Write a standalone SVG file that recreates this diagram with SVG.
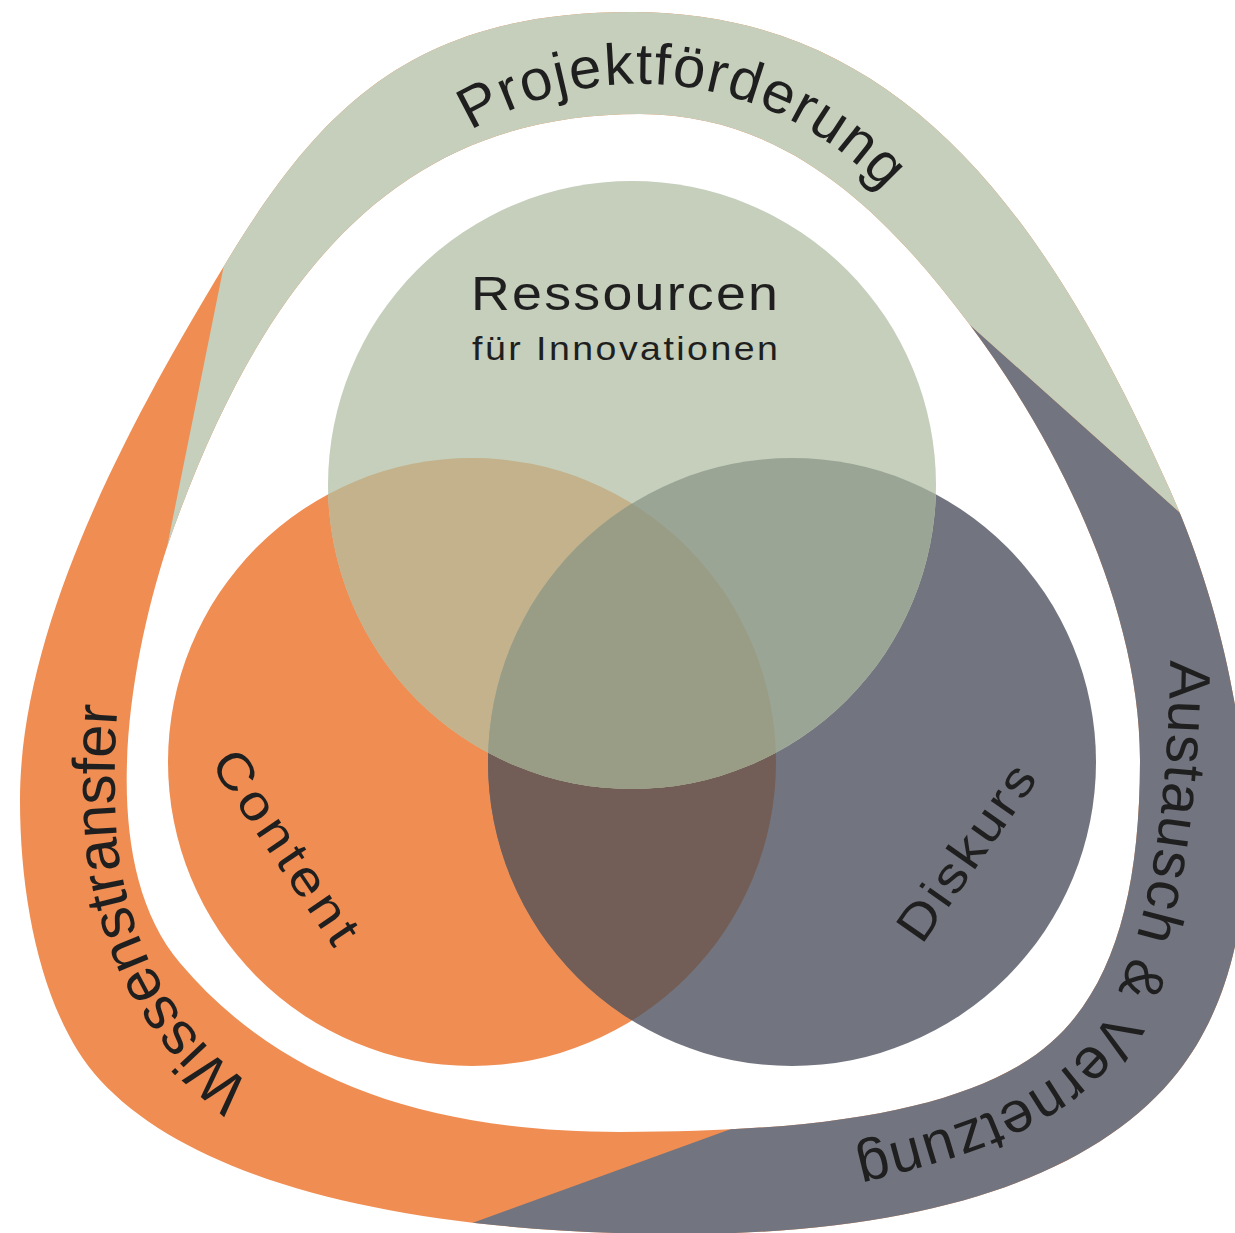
<svg xmlns="http://www.w3.org/2000/svg" width="1235" height="1233" viewBox="0 0 1235 1233">
  <style>
    .lbl { font-family: "Liberation Sans", Arial, sans-serif; fill: #1f1f1f; }
    .ring { font-size: 58px; }
  </style>
  <defs>
    <!-- closed band: outer contour + inner contour, filled even-odd -->
    <path id="ringShape" fill-rule="evenodd" d="M 632,12 C 902,12 1047.6,216 1170,490 C 1245.5,659 1292.3,926.6 1178,1072 C 1097.7,1174.2 930,1234 680,1234 C 430,1234 201.7,1190.3 100,1080 C 45.8,1021.2 20,910 20,800 C 20,620 136.1,411.5 224,266 C 319.6,107.6 412,12 632,12 Z
      M 640,114 C 790,114 890,218 970,325 C 1060,445 1140,610 1140,760 C 1140,910 1106.3,1014.4 1020,1065 C 942.3,1110.5 820,1132 620,1132 C 420,1132 276.9,1077.5 180,963 C 96,863.8 126.8,670.6 167,547 C 270,250 415,114 640,114 Z"/>

    <!-- sectors that split the band into its three parts -->
    <clipPath id="sectorTop"><polygon points="167,547 248,146 -20,-20 1300,-20 1300,620 970,325"/></clipPath>
    <clipPath id="sectorRight"><polygon points="970,325 1300,620 1300,1300 250,1300 365,1262 742,1125"/></clipPath>

    <!-- circle clips for the Venn overlaps -->
    <clipPath id="clipContent"><circle cx="472" cy="762" r="304"/></clipPath>
    <clipPath id="clipDiskurs"><circle cx="792" cy="762" r="304"/></clipPath>

    <!-- text baselines along the band, running clockwise -->
    <path id="pathTop" d="M 420,168 A 330 330 0 0 1 920,239"/>
    <path id="pathLeft" d="M 262,1092 Q 140,1010 118,850 Q 110,760 122,660"/>
    <path id="pathRight" d="M 1170,600 C 1172,760 1160,900 1110,1010 C 1065,1100 960,1130 800,1165"/>
  </defs>

  <!-- outer band -->
  <g id="band">
    <g id="wissenstransfer">
      <use href="#ringShape" fill="#ef8d52"/>
      <text class="lbl" font-size="60" letter-spacing="-0.5"><textPath href="#pathLeft" startOffset="12">Wissenstransfer</textPath></text>
    </g>
    <g id="austausch">
      <use href="#ringShape" fill="#72757f" clip-path="url(#sectorRight)"/>
      <text class="lbl ring" letter-spacing="1.2"><textPath href="#pathRight" startOffset="60">Austausch &amp; Vernetzung</textPath></text>
    </g>
    <g id="projektfoerderung">
      <use href="#ringShape" fill="#c5cfbb" clip-path="url(#sectorTop)"/>
      <text class="lbl ring" letter-spacing="1.5"><textPath href="#pathTop" startOffset="63">Projektförderung</textPath></text>
    </g>
  </g>

  <!-- three overlapping circles -->
  <g id="venn">
    <g id="content">
      <circle cx="472" cy="762" r="304" fill="#ef8d52"/>
    </g>
    <g id="diskurs">
      <circle cx="792" cy="762" r="304" fill="#72757f"/>
    </g>
    <g id="ressourcen">
      <circle cx="632" cy="485" r="304" fill="#c5cfbb"/>
    </g>
    <g id="overlaps">
      <circle cx="472" cy="762" r="304" fill="#735e57" clip-path="url(#clipDiskurs)"/>
      <circle cx="632" cy="485" r="304" fill="#c3b28b" clip-path="url(#clipContent)"/>
      <circle cx="632" cy="485" r="304" fill="#9aa596" clip-path="url(#clipDiskurs)"/>
      <g clip-path="url(#clipContent)">
        <circle cx="632" cy="485" r="304" fill="#9a9d86" clip-path="url(#clipDiskurs)"/>
      </g>
    </g>
    <g id="labels">
      <text class="lbl" font-size="48" letter-spacing="2" transform="translate(471,310) scale(1.12,1)">Ressourcen</text>
      <text class="lbl" font-size="33.5" letter-spacing="2.2" transform="translate(472,360) scale(1.12,1)">für Innovationen</text>
      <text class="lbl" font-size="50" letter-spacing="4" text-anchor="middle" transform="translate(273,858) rotate(56) scale(1.12,1)">Content</text>
      <text class="lbl" font-size="50" letter-spacing="2.5" text-anchor="middle" transform="translate(981,861) rotate(-55) scale(1.12,1)">Diskurs</text>
    </g>
  </g>
</svg>
